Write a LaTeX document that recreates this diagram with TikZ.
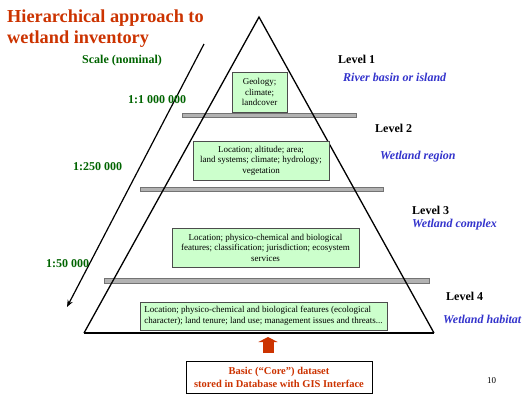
\documentclass[tikz,border=0pt]{standalone}
\usepackage{fontspec}
\setmainfont{Liberation Serif}
\usetikzlibrary{arrows.meta}
\definecolor{titlered}{RGB}{204,51,0}
\definecolor{scalegreen}{RGB}{0,100,0}
\definecolor{levelblue}{RGB}{51,51,204}
\definecolor{boxgreen}{RGB}{204,255,204}
\definecolor{bargrey}{RGB}{178,178,178}
\begin{document}
\begin{tikzpicture}[x=1pt,y=-1pt,
  titletext/.style={anchor=base west,inner sep=0pt,align=left,text=titlered,font=\fontsize{18.3}{21}\selectfont\bfseries},
  scaletext/.style={anchor=base west,inner sep=0pt,text=scalegreen,font=\fontsize{12}{14}\selectfont\bfseries},
  leveltext/.style={anchor=base west,inner sep=0pt,font=\fontsize{12}{14}\selectfont\bfseries},
  leveldesc/.style={anchor=base west,inner sep=0pt,text=levelblue,font=\fontsize{12}{14}\selectfont\bfseries\itshape},
  infobox/.style={draw=black!70,fill=boxgreen,line width=0.6pt,inner sep=1pt,align=center,font=\fontsize{9}{10.5}\selectfont},
  bar/.style={draw=black!55,fill=bargrey,line width=0.6pt},
  pyr/.style={line width=1.3pt,black},
  scalearrow/.style={line width=1.2pt,-{Stealth[length=7pt,width=5.5pt]}},
  redarrow/.style={line width=11pt,titlered,-{Triangle[length=5pt,width=19pt]}},
  corebox/.style={draw=black,line width=1pt,fill=white,align=center,text=titlered,minimum width=186pt,minimum height=32pt,inner sep=0pt,font=\fontsize{10.5}{13}\selectfont\bfseries}
]
\useasboundingbox (0,0) rectangle (530,400);
\fill[white] (0,0) rectangle (530,400);

% title
\node[titletext] (title) at (7,43) {Hierarchical approach to\\wetland inventory};
\node[scaletext] (scale) at (82,63) {Scale (nominal)};

% bars
\draw[bar] (182,113) rectangle (356,117.5);
\draw[bar] (140,187) rectangle (383,191.5);
\draw[bar] (104,278.5) rectangle (429,283);

% pyramid
\coordinate (apex) at (259,17);
\coordinate (bl) at (84,333);
\coordinate (br) at (434,333);
\draw[pyr] (bl) -- (apex) -- (br);
\draw[line width=2pt] (bl) -- (br);

% scale arrow
\coordinate (sa1) at (204,44);
\coordinate (sa2) at (67,307);
\draw[scalearrow] (sa1) -- (sa2);

% scale labels
\node[scaletext] (s1) at (128,103) {1:1 000 000};
\node[scaletext] (s2) at (73,170) {1:250 000};
\node[scaletext] (s3) at (46,267) {1:50 000};

% boxes
\node[infobox,minimum width=55pt,minimum height=40pt] (b1) at (259.5,92) {Geology;\\climate;\\landcover};
\node[infobox,minimum width=136pt,minimum height=39pt] (b2) at (261,160.5) {Location; altitude; area;\\land systems; climate; hydrology;\\vegetation};
\node[infobox,minimum width=187pt,minimum height=39pt] (b3) at (265.5,247.5) {Location; physico-chemical and biological\\features; classification; jurisdiction; ecosystem\\services};
\node[infobox,minimum width=247pt,minimum height=28pt,align=left] (b4) at (263.5,316) {Location; physico-chemical and biological features (ecological\\character); land tenure; land use; management issues and threats...};

% levels
\node[leveltext] (l1) at (338,63) {Level 1};
\node[leveldesc] (d1) at (343,81) {River basin or island};
\node[leveltext] (l2) at (375,132) {Level 2};
\node[leveldesc] (d2) at (380,159) {Wetland region};
\node[leveltext] (l3) at (412,214) {Level 3};
\node[leveldesc] (d3) at (412,227) {Wetland complex};
\node[leveltext] (l4) at (446,300) {Level 4};
\node[leveldesc] (d4) at (443,323) {Wetland habitat};

% core box
\node[corebox] (core) at (279,377) {Basic (“Core”) dataset\\stored in Database with GIS Interface};
\coordinate (ra1) at (268,353);
\coordinate (ra2) at (268,337);
\draw[redarrow] (ra1) -- (ra2);

\node[anchor=base west,inner sep=0pt,font=\fontsize{9}{10}\selectfont] (pg) at (487,383) {10};
\end{tikzpicture}
\end{document}
